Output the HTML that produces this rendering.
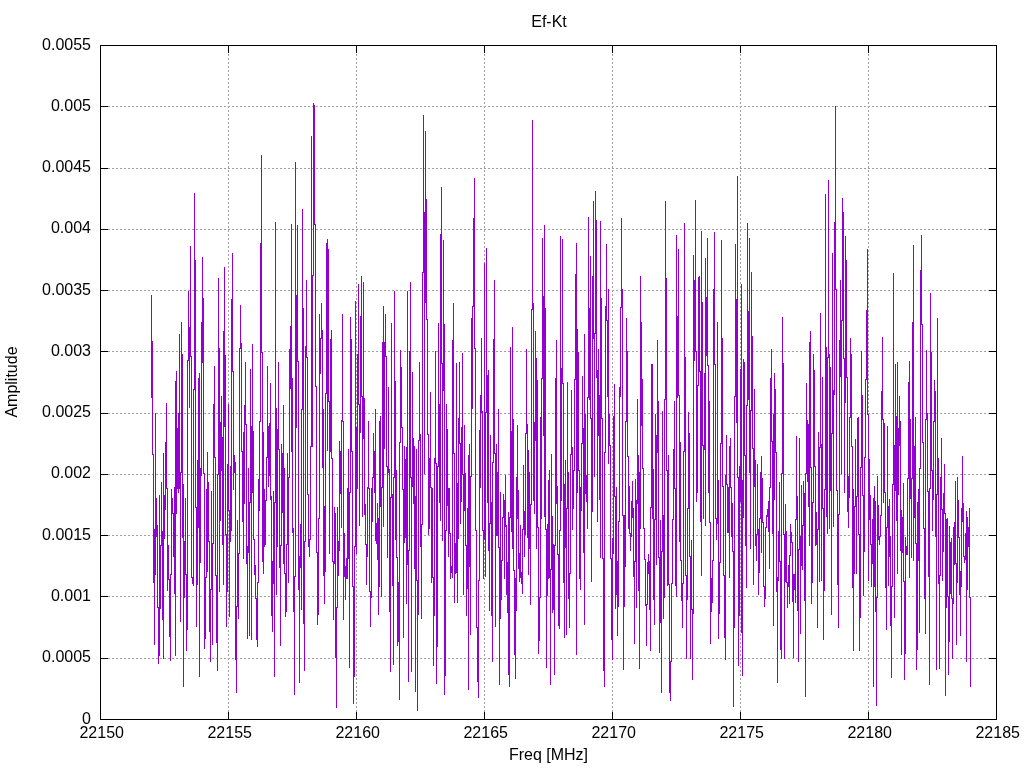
<!DOCTYPE html>
<html><head><meta charset="utf-8"><title>Ef-Kt</title>
<style>html,body{margin:0;padding:0;background:#fff;overflow:hidden}svg{display:block}</style></head>
<body><svg width="1024" height="768" viewBox="0 0 1024 768" shape-rendering="crispEdges">
<rect width="1024" height="768" fill="#fff"/>
<path d="M100 106.5H996M100 168.5H996M100 229.5H996M100 290.5H996M100 351.5H996M100 413.5H996M100 474.5H996M100 535.5H996M100 596.5H996M100 658.5H996M228.5 46V719M356.5 46V719M484.5 46V719M612.5 46V719M740.5 46V719M868.5 46V719" stroke="#a0a0a0" stroke-width="1" stroke-dasharray="2 2" fill="none"/>
<path d="M151.5 295V398M152.5 341V455M153.5 454V583M154.5 529V645M155.5 413V575M156.5 498V537M157.5 525V608M158.5 607V664M159.5 495V656M160.5 545V609M161.5 482V546M162.5 531V620M163.5 453V659M164.5 495V539M165.5 442V510M166.5 403V489M167.5 488V591M168.5 545V580M169.5 579V637M170.5 574V661M171.5 489V575M172.5 498V514M173.5 513V557M174.5 487V594M175.5 381V656M176.5 371V514M177.5 428V489M178.5 413V493M179.5 334V489M180.5 472V622M181.5 322V473M182.5 354V538M183.5 484V687M184.5 541V598M185.5 498V575M186.5 574V651M187.5 360V630M188.5 291V361M189.5 327V408M190.5 246V357M191.5 356V578M192.5 577V584M193.5 389V586M194.5 193V390M195.5 260V508M196.5 507V627M197.5 460V585M198.5 378V528M199.5 373V677M200.5 468V563M201.5 322V476M202.5 257V363M203.5 298V474M204.5 473V649M205.5 577V639M206.5 489V578M207.5 452V572M208.5 482V542M209.5 541V632M210.5 589V662M211.5 491V590M212.5 543V645M213.5 404V544M214.5 366V458M215.5 457V576M216.5 575V643M217.5 474V671M218.5 278V475M219.5 348V592M220.5 422V521M221.5 396V471M222.5 437V545M223.5 331V585M224.5 267V427M225.5 355V535M226.5 534V627M227.5 464V592M228.5 404V511M229.5 510V617M230.5 466V542M231.5 299V531M232.5 253V372M233.5 371V490M234.5 455V473M235.5 462V660M236.5 606V693M237.5 520V607M238.5 553V619M239.5 348V554M240.5 305V349M241.5 343V452M242.5 451V522M243.5 432V559M244.5 405V504M245.5 362V425M246.5 424V564M247.5 546V639M248.5 468V553M249.5 502V636M250.5 369V503M251.5 426V640M252.5 344V493M253.5 431V540M254.5 539V575M255.5 565V599M256.5 598V640M257.5 582V647M258.5 479V583M259.5 421V511M260.5 243V422M261.5 155V353M262.5 352V562M263.5 432V574M264.5 489V547M265.5 500V545M266.5 457V501M267.5 366V458M268.5 426V487M269.5 423V476M270.5 383V500M271.5 496V616M272.5 561V632M273.5 491V584M274.5 502V677M275.5 222V503M276.5 408V595M277.5 429V547M278.5 362V450M279.5 449V568M280.5 545V646M281.5 444V546M282.5 453V513M283.5 405V564M284.5 468V574M285.5 573V617M286.5 544V612M287.5 453V545M288.5 477V583M289.5 349V478M290.5 326V389M291.5 224V452M292.5 378V533M293.5 528V612M294.5 576V695M295.5 162V577M296.5 295V428M297.5 225V362M298.5 361V590M299.5 556V683M300.5 524V568M301.5 409V610M302.5 209V410M303.5 308V624M304.5 541V671M305.5 346V542M306.5 280V358M307.5 357V495M308.5 494V547M309.5 539V557M310.5 446V540M311.5 136V447M312.5 275V447M313.5 103V276M314.5 105V225M315.5 224V387M316.5 386V553M317.5 552V625M318.5 518V615M319.5 314V519M320.5 338V374M321.5 303V339M322.5 330V468M323.5 409V576M324.5 506V604M325.5 393V572M326.5 243V394M327.5 239V451M328.5 249V402M329.5 401V554M330.5 339V452M331.5 330V459M332.5 458V562M333.5 561V620M334.5 507V564M335.5 513V658M336.5 607V708M337.5 507V608M338.5 541V576M339.5 441V551M340.5 451V494M341.5 420V528M342.5 314V422M343.5 421V620M344.5 533V577M345.5 566V600M346.5 558V579M347.5 488V579M348.5 449V559M349.5 492V668M350.5 317V493M351.5 339V452M352.5 451V587M353.5 586V704M354.5 546V677M355.5 301V547M356.5 427V554M357.5 354V489M358.5 284V405M359.5 404V526M360.5 316V433M361.5 276V397M362.5 396V517M363.5 282V439M364.5 398V515M365.5 504V545M366.5 544V585M367.5 487V557M368.5 421V489M369.5 488V592M370.5 591V627M371.5 488V598M372.5 477V522M373.5 433V478M374.5 451V493M375.5 409V541M376.5 523V544M377.5 503V560M378.5 518V615M379.5 421V587M380.5 416V507M381.5 487V597M382.5 342V488M383.5 306V527M384.5 342V449M385.5 314V357M386.5 356V467M387.5 466V558M388.5 387V473M389.5 469V612M390.5 497V672M391.5 323V498M392.5 494V586M393.5 477V665M394.5 291V478M395.5 381V540M396.5 470V558M397.5 557V646M398.5 582V642M399.5 442V700M400.5 350V443M401.5 367V428M402.5 427V490M403.5 489V638M404.5 446V543M405.5 459V538M406.5 447V604M407.5 291V565M408.5 550V682M409.5 351V551M410.5 282V478M411.5 477V672M412.5 372V487M413.5 438V504M414.5 446V569M415.5 496V692M416.5 449V581M417.5 580V711M418.5 440V615M419.5 362V441M420.5 434V547M421.5 524V619M422.5 272V525M423.5 115V273M424.5 212V474M425.5 131V303M426.5 199V320M427.5 319V435M428.5 434V535M429.5 458V529M430.5 392V488M431.5 487V583M432.5 488V578M433.5 577V666M434.5 458V616M435.5 351V464M436.5 463V684M437.5 466V647M438.5 323V467M439.5 404V503M440.5 234V521M441.5 187V364M442.5 363V541M443.5 240V391M444.5 324V695M445.5 530V676M446.5 404V531M447.5 429V506M448.5 488V557M449.5 488V534M450.5 533V579M451.5 566V573M452.5 340V578M453.5 303V454M454.5 453V603M455.5 543V574M456.5 363V573M457.5 483V603M458.5 418V539M459.5 362V444M460.5 443V524M461.5 427V502M462.5 353V475M463.5 474V595M464.5 425V511M465.5 473V546M466.5 545V616M467.5 508V589M468.5 455V690M469.5 444V567M470.5 476V635M471.5 318V477M472.5 306V409M473.5 218V307M474.5 178V349M475.5 348V531M476.5 530V628M477.5 627V682M478.5 580V698M479.5 430V581M480.5 395V488M481.5 338V413M482.5 411V531M483.5 530V579M484.5 263V540M485.5 412V577M486.5 248V413M487.5 375V503M488.5 370V551M489.5 523V611M490.5 435V524M491.5 502V616M492.5 462V662M493.5 339V463M494.5 280V454M495.5 453V627M496.5 444V536M497.5 472V536M498.5 409V548M499.5 547V685M500.5 492V619M501.5 560V600M502.5 517V561M503.5 494V518M504.5 500V579M505.5 475V527M506.5 525V595M507.5 562V613M508.5 512V675M509.5 517V687M510.5 347V518M511.5 431V532M512.5 327V549M513.5 419V571M514.5 570V655M515.5 578V679M516.5 477V611M517.5 425V519M518.5 490V569M519.5 553V582M520.5 525V578M521.5 572V584M522.5 529V594M523.5 465V530M524.5 511V557M525.5 433V535M526.5 349V434M527.5 424V538M528.5 450V575M529.5 472V549M530.5 504V605M531.5 309V505M532.5 120V310M533.5 303V501M534.5 422V514M535.5 331V441M536.5 358V549M537.5 380V528M538.5 527V654M539.5 597V641M540.5 417V598M541.5 378V519M542.5 238V379M543.5 296V436M544.5 225V517M545.5 308V530M546.5 529V668M547.5 524V596M548.5 480V579M549.5 470V578M550.5 569V685M551.5 454V570M552.5 516V613M553.5 544V610M554.5 545V675M555.5 378V546M556.5 340V504M557.5 486V555M558.5 554V626M559.5 530V629M560.5 236V531M561.5 368V501M562.5 239V384M563.5 383V583M564.5 484V638M565.5 460V548M566.5 508V635M567.5 382V509M568.5 472V599M569.5 573V628M570.5 454V574M571.5 390V455M572.5 447V530M573.5 470V509M574.5 379V471M575.5 274V380M576.5 243V655M577.5 329V493M578.5 352V471M579.5 470V579M580.5 487V590M581.5 443V511M582.5 376V444M583.5 428V553M584.5 334V625M585.5 414V494M586.5 475V502M587.5 397V529M588.5 217V398M589.5 308V400M590.5 256V419M591.5 418V582M592.5 276V512M593.5 201V339M594.5 333V477M595.5 191V334M596.5 220V378M597.5 370V522M598.5 349V436M599.5 395V500M600.5 221V558M601.5 298V419M602.5 418V559M603.5 558V671M604.5 452V687M605.5 306V453M606.5 244V321M607.5 320V397M608.5 289V464M609.5 414V446M610.5 445V559M611.5 558V640M612.5 538V660M613.5 416V554M614.5 384V497M615.5 496V609M616.5 487V595M617.5 561V636M618.5 521V607M619.5 387V522M620.5 307V397M621.5 218V308M622.5 289V516M623.5 515V670M624.5 515V607M625.5 421V567M626.5 318V422M627.5 351V457M628.5 456V529M629.5 486V534M630.5 533V551M631.5 501V537M632.5 481V518M633.5 508V577M634.5 561V644M635.5 479V562M636.5 500V608M637.5 399V504M638.5 455V591M639.5 472V669M640.5 276V529M641.5 322V426M642.5 379V469M643.5 468V529M644.5 528V560M645.5 559V606M646.5 604V646M647.5 562V605M648.5 554V574M649.5 561V610M650.5 507V651M651.5 364V508M652.5 364V519M653.5 469V600M654.5 519V625M655.5 414V520M656.5 435V565M657.5 340V453M658.5 401V558M659.5 557V653M660.5 520V623M661.5 551V693M662.5 411V552M663.5 515V619M664.5 399V598M665.5 201V400M666.5 278V471M667.5 470V586M668.5 455V585M669.5 584V693M670.5 661V701M671.5 583V662M672.5 519V584M673.5 449V520M674.5 401V489M675.5 488V586M676.5 235V597M677.5 316V398M678.5 249V396M679.5 395V542M680.5 442V561M681.5 560V601M682.5 583V628M683.5 451V584M684.5 223V452M685.5 357V576M686.5 575V659M687.5 508V600M688.5 412V509M689.5 433V557M690.5 556V659M691.5 540V610M692.5 609V680M693.5 255V614M694.5 280V361M695.5 200V352M696.5 351V502M697.5 385V493M698.5 277V386M699.5 276V372M700.5 371V522M701.5 231V576M702.5 302V446M703.5 445V519M704.5 373V450M705.5 258V526M706.5 297V356M707.5 238V366M708.5 365V493M709.5 401V523M710.5 522V644M711.5 578V612M712.5 560V603M713.5 289V561M714.5 232V365M715.5 364V519M716.5 518V540M717.5 322V524M718.5 480V639M719.5 562V614M720.5 443V563M721.5 240V444M722.5 338V487M723.5 486V576M724.5 575V638M725.5 475V660M726.5 435V485M727.5 484V533M728.5 487V533M729.5 446V578M730.5 438V488M731.5 487V537M732.5 503V552M733.5 551V707M734.5 396V628M735.5 244V397M736.5 299V423M737.5 176V478M738.5 477V666M739.5 466V616M740.5 369V502M741.5 284V633M742.5 480V676M743.5 359V518M744.5 362V456M745.5 455V546M746.5 405V588M747.5 223V406M748.5 311V400M749.5 238V473M750.5 410V549M751.5 272V411M752.5 336V449M753.5 448V585M754.5 389V487M755.5 460V546M756.5 534V561M757.5 464V535M758.5 529V595M759.5 518V573M760.5 472V519M761.5 456V553M762.5 478V523M763.5 522V587M764.5 586V607M765.5 527V599M766.5 515V528M767.5 509V517M768.5 501V532M769.5 487V569M770.5 378V488M771.5 349V442M772.5 441V534M773.5 414V626M774.5 373V500M775.5 389V453M776.5 452V592M777.5 577V683M778.5 531V581M779.5 482V562M780.5 561V650M781.5 473V659M782.5 317V474M783.5 363V535M784.5 534V659M785.5 504V582M786.5 531V583M787.5 582V608M788.5 565V587M789.5 555V604M790.5 524V556M791.5 532V543M792.5 542V602M793.5 574V658M794.5 574V590M795.5 519V603M796.5 436V520M797.5 496V611M798.5 549V662M799.5 438V550M800.5 536V634M801.5 485V566M802.5 525V570M803.5 481V526M804.5 493V601M805.5 473V697M806.5 383V474M807.5 420V482M808.5 424V507M809.5 342V546M810.5 331V468M811.5 467V604M812.5 502V583M813.5 354V503M814.5 370V467M815.5 466V546M816.5 512V545M817.5 529V628M818.5 432V530M819.5 447V582M820.5 313V448M821.5 444V581M822.5 377V509M823.5 508V640M824.5 489V591M825.5 194V490M826.5 347V517M827.5 357V534M828.5 180V358M829.5 354V529M830.5 367V491M831.5 433V615M832.5 253V434M833.5 390V527M834.5 222V395M835.5 106V290M836.5 289V491M837.5 490V585M838.5 514V628M839.5 340V515M840.5 280V377M841.5 320V474M842.5 198V321M843.5 212V359M844.5 358V493M845.5 236V403M846.5 260V378M847.5 377V512M848.5 476V528M849.5 417V498M850.5 338V418M851.5 354V447M852.5 446V588M853.5 489V651M854.5 506V574M855.5 439V507M856.5 496V574M857.5 418V497M858.5 417V535M859.5 534V651M860.5 467V618M861.5 351V468M862.5 395V496M863.5 495V596M864.5 457V552M865.5 379V458M866.5 310V380M867.5 249V415M868.5 414V581M869.5 459V520M870.5 495V545M871.5 544V587M872.5 519V564M873.5 498V687M874.5 486V587M875.5 501V612M876.5 597V706M877.5 476V598M878.5 505V540M879.5 536V545M880.5 515V537M881.5 391V516M882.5 337V420M883.5 419V503M884.5 423V493M885.5 492V588M886.5 527V630M887.5 426V528M888.5 506V586M889.5 499V557M890.5 536V626M891.5 586V678M892.5 484V587M893.5 273V485M894.5 445V618M895.5 364V491M896.5 416V521M897.5 362V574M898.5 428V495M899.5 396V446M900.5 421V551M901.5 510V655M902.5 517V553M903.5 483V582M904.5 581V680M905.5 537V654M906.5 546V555M907.5 478V555M908.5 382V479M909.5 361V578M910.5 419V499M911.5 478V558M912.5 322V479M913.5 245V561M914.5 446V518M915.5 417V544M916.5 543V670M917.5 502V650M918.5 489V561M919.5 468V633M920.5 270V469M921.5 235V325M922.5 324V443M923.5 442V529M924.5 528V599M925.5 419V634M926.5 350V420M927.5 413V492M928.5 491V577M929.5 488V685M930.5 293V489M931.5 352V471M932.5 470V531M933.5 421V500M934.5 380V422M935.5 391V537M936.5 494V670M937.5 318V495M938.5 458V584M939.5 575V669M940.5 477V576M941.5 438V510M942.5 509V581M943.5 493V552M944.5 464V514M945.5 513V696M946.5 519V608M947.5 518V597M948.5 596V675M949.5 526V642M950.5 542V594M951.5 538V599M952.5 598V659M953.5 527V604M954.5 522V565M955.5 481V564M956.5 563V645M957.5 477V583M958.5 500V538M959.5 537V595M960.5 571V636M961.5 508V587M962.5 456V522M963.5 503V557M964.5 556V563M965.5 533V560M966.5 511V662M967.5 517V590M968.5 527V547M969.5 508V598M970.5 597V687" stroke="#9400d3" stroke-width="1" fill="none"/>
<path d="M100.5 45.5H996.5V719.5H100.5ZM100 45.5h8M997 45.5h-8M100 106.5h8M997 106.5h-8M100 168.5h8M997 168.5h-8M100 229.5h8M997 229.5h-8M100 290.5h8M997 290.5h-8M100 351.5h8M997 351.5h-8M100 413.5h8M997 413.5h-8M100 474.5h8M997 474.5h-8M100 535.5h8M997 535.5h-8M100 596.5h8M997 596.5h-8M100 658.5h8M997 658.5h-8M100 719.5h8M997 719.5h-8M100.5 720v-8M100.5 45v8M228.5 720v-8M228.5 45v8M356.5 720v-8M356.5 45v8M484.5 720v-8M484.5 45v8M612.5 720v-8M612.5 45v8M740.5 720v-8M740.5 45v8M868.5 720v-8M868.5 45v8M996.5 720v-8M996.5 45v8" stroke="#000" stroke-width="1" fill="none"/>
<g font-family="Liberation Sans, sans-serif" font-size="16" fill="#000"><text transform="translate(91.00,723.50) scale(1,1.0)" text-anchor="end">0</text><text transform="translate(91.00,662.23) scale(1,1.0)" text-anchor="end">0.0005</text><text transform="translate(91.00,600.95) scale(1,1.0)" text-anchor="end">0.001</text><text transform="translate(91.00,539.68) scale(1,1.0)" text-anchor="end">0.0015</text><text transform="translate(91.00,478.41) scale(1,1.0)" text-anchor="end">0.002</text><text transform="translate(91.00,417.14) scale(1,1.0)" text-anchor="end">0.0025</text><text transform="translate(91.00,355.86) scale(1,1.0)" text-anchor="end">0.003</text><text transform="translate(91.00,294.59) scale(1,1.0)" text-anchor="end">0.0035</text><text transform="translate(91.00,233.32) scale(1,1.0)" text-anchor="end">0.004</text><text transform="translate(91.00,172.05) scale(1,1.0)" text-anchor="end">0.0045</text><text transform="translate(91.00,110.77) scale(1,1.0)" text-anchor="end">0.005</text><text transform="translate(91.00,49.50) scale(1,1.0)" text-anchor="end">0.0055</text><text transform="translate(101.70,738.30) scale(1,1.0)" text-anchor="middle">22150</text><text transform="translate(229.70,738.30) scale(1,1.0)" text-anchor="middle">22155</text><text transform="translate(357.70,738.30) scale(1,1.0)" text-anchor="middle">22160</text><text transform="translate(485.70,738.30) scale(1,1.0)" text-anchor="middle">22165</text><text transform="translate(613.70,738.30) scale(1,1.0)" text-anchor="middle">22170</text><text transform="translate(741.70,738.30) scale(1,1.0)" text-anchor="middle">22175</text><text transform="translate(869.70,738.30) scale(1,1.0)" text-anchor="middle">22180</text><text transform="translate(997.70,738.30) scale(1,1.0)" text-anchor="middle">22185</text><text transform="translate(549.00,26.90) scale(1,1.0)" text-anchor="middle">Ef-Kt</text><text transform="translate(548.50,760.00) scale(1,1.0)" text-anchor="middle">Freq [MHz]</text><text transform="translate(16.9,382) rotate(-90)" text-anchor="middle">Amplitude</text></g>
</svg></body></html>
